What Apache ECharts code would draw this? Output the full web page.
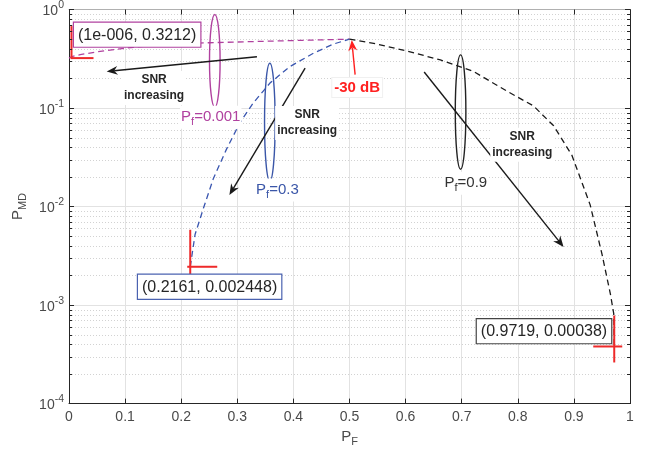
<!DOCTYPE html>
<html><head><meta charset="utf-8">
<script src="https://cdn.jsdelivr.net/npm/echarts@6/dist/echarts.min.js"></script>
<style>html,body{margin:0;padding:0;background:#fff}#c{width:655px;height:452px}</style>
</head><body><div id="c"></div>
<script>
// Pf = 0.001 (magenta)
const magentaX = [0.000001, 0.005, 0.02, 0.05, 0.1, 0.15, 0.2, 0.25, 0.3, 0.35, 0.4, 0.45, 0.5];
const magentaY = [0.3212, 0.333, 0.348, 0.372, 0.405, 0.432, 0.452, 0.46, 0.468, 0.476, 0.484, 0.492, 0.5];
// Pf = 0.3 (blue)
const blueX = [0.2161, 0.2247, 0.2396, 0.2574, 0.281, 0.305, 0.3287, 0.3585, 0.394, 0.4357, 0.4714, 0.5];
const blueY = [0.002448, 0.0052, 0.0096, 0.0193, 0.0385, 0.0714, 0.113, 0.18, 0.264, 0.36, 0.446, 0.5];
// Pf = 0.9 (black)
const blackX = [0.5, 0.543, 0.602, 0.662, 0.721, 0.781, 0.828, 0.864, 0.8966, 0.929, 0.95, 0.965, 0.971, 0.9719];
const blackY = [0.5, 0.453, 0.379, 0.308, 0.235, 0.148, 0.105, 0.066, 0.033, 0.0104, 0.0033, 0.0013, 0.00082, 0.00038];

const xTickLabels = ['0','0.1','0.2','0.3','0.4','0.5','0.6','0.7','0.8','0.9','1'];
const yTickExps = [-4, -3, -2, -1, 0];
const minorMults = [2,3,4,5,6,7,8,9];

// annotation anchors in data space
const datatips = [
  {text:'(1e-006, 0.3212)', at:[0.0089, 0.735], color:'#b0419f', pt:[0.000001, 0.3212]},
  {text:'(0.2161, 0.002448)', at:[0.123, 0.00203], color:'#4a62b0', pt:[0.2161, 0.002448]},
  {text:'(0.9719, 0.00038)', at:[0.727, 0.00072], color:'#444444', pt:[0.9719, 0.00038]}
];
const ellipses = [
  {x:0.2599, top:0.891, bottom:0.1016, color:'#b0419f'},
  {x:0.358, top:0.285, bottom:0.0181, color:'#3a56a8'},
  {x:0.698, top:0.346, bottom:0.0239, color:'#222222'}
];
const arrows = [
  {from:[0.335,0.332], to:[0.0672,0.235], color:'#1a1a1a'},
  {from:[0.4209,0.254], to:[0.2859,0.0131], color:'#1a1a1a'},
  {from:[0.6331,0.232], to:[0.8816,0.00389], color:'#1a1a1a'},
  {from:[0.510,0.218], to:[0.504,0.489], color:'#ff2020'}
];
const snrLabels = [[0.1516,0.1595],[0.4245,0.0703],[0.808,0.0423]];
const pfLabels = [
  {main:'P', sub:'f', rest:'=0.001', at:[0.198,0.0807], color:'#b0419f'},
  {main:'P', sub:'f', rest:'=0.3', at:[0.3317,0.0147], color:'#3a56a8'},
  {main:'P', sub:'f', rest:'=0.9', at:[0.6676,0.0172], color:'#333333'}
];
const dbLabel = {text:'-30 dB', at:[0.5137,0.162]};

const FONT = 'Liberation Sans, Arial, Helvetica, sans-serif';
const chart = echarts.init(document.getElementById('c'));
const dash = [6,4];
function pairs(xs, ys){ return xs.map((x,i)=>[x, ys[i]]); }

chart.setOption({
  animation:false,
  backgroundColor:'#fff',
  grid:{left:69, right:25, top:9, bottom:44, containLabel:false},
  xAxis:[{
    type:'value', min:0, max:1, interval:0.1, position:'bottom',
    axisLine:{show:true, onZero:false, lineStyle:{color:'#262626', width:1}},
    axisTick:{show:true, inside:true, length:5, lineStyle:{color:'#262626'}},
    axisLabel:{color:'#4a4a4a', fontSize:14, fontFamily:FONT, margin:7,
      formatter:v=>xTickLabels[Math.round(v*10)]},
    splitLine:{show:true, lineStyle:{color:'#e2e2e2', width:1}},
    name:'{p|P}{s|F}', nameLocation:'middle', nameGap:20,
    nameTextStyle:{rich:{p:{fontSize:15, color:'#4a4a4a', fontFamily:FONT},
      s:{fontSize:11, color:'#4a4a4a', fontFamily:FONT, verticalAlign:'top', padding:[9,0,0,0]}}}
  },{
    type:'value', min:0, max:1, interval:0.1, position:'top',
    axisLine:{show:true, onZero:false, lineStyle:{color:'#b0b0b0', width:1}},
    axisTick:{show:true, inside:true, length:5, lineStyle:{color:'#262626'}},
    axisLabel:{show:false}, splitLine:{show:false}
  }],
  yAxis:[{
    type:'log', logBase:10, min:1e-4, max:1, position:'left',
    axisLine:{show:true, onZero:false, lineStyle:{color:'#262626', width:1}},
    axisTick:{show:true, inside:true, length:5, lineStyle:{color:'#262626'}},
    axisLabel:{color:'#4a4a4a', fontFamily:FONT, margin:5,
      formatter:v=>'{b|10}{s|'+Math.round(Math.log10(v))+'}',
      rich:{b:{fontSize:14, color:'#4a4a4a', fontFamily:FONT, padding:[4,0,0,0]},
            s:{fontSize:10.5, color:'#4a4a4a', fontFamily:FONT, verticalAlign:'bottom', padding:[0,0,8,0]}}},
    splitLine:{show:true, lineStyle:{color:'#e2e2e2', width:1}},
    name:'{p|P}{s|MD}', nameLocation:'middle', nameGap:32, nameRotate:90,
    nameTextStyle:{rich:{p:{fontSize:15, color:'#4a4a4a', fontFamily:FONT},
      s:{fontSize:11, color:'#4a4a4a', fontFamily:FONT, verticalAlign:'top', padding:[9,0,0,0]}}}
  },{
    type:'log', logBase:10, min:1e-4, max:1, position:'right',
    axisLine:{show:true, onZero:false, lineStyle:{color:'#262626', width:1}},
    axisTick:{show:true, inside:true, length:5, lineStyle:{color:'#262626'}},
    axisLabel:{show:false}, splitLine:{show:false}
  }],
  series:[
    {type:'line', name:'Pf=0.001', data:pairs(magentaX, magentaY), showSymbol:false, z:3,
     lineStyle:{color:'#b0419f', width:1.3, type:dash}},
    {type:'line', name:'Pf=0.3', data:pairs(blueX, blueY), showSymbol:false, z:3,
     lineStyle:{color:'#3a56b0', width:1.3, type:dash}},
    {type:'line', name:'Pf=0.9', data:pairs(blackX, blackY), showSymbol:false, z:3,
     lineStyle:{color:'#1a1a1a', width:1.3, type:dash}}
  ]
});

function P(d){ return chart.convertToPixel({seriesIndex:0}, d); }
const els = [];
// minor grid + minor ticks
const gl = P([0,1])[0], gr = P([1,1])[0];
yTickExps.slice(0,-1).forEach(e=>{
  minorMults.forEach(m=>{
    const y = Math.round(P([0, m*Math.pow(10,e)])[1]) + 0.5;
    els.push({type:'line', z:1, silent:true, shape:{x1:gl, y1:y, x2:gr, y2:y},
      style:{stroke:'#d2d2d2', lineWidth:1, lineDash:[1,2]}});
    els.push({type:'line', z:20, silent:true, shape:{x1:gl, y1:y, x2:gl+3, y2:y}, style:{stroke:'#262626', lineWidth:1}});
    els.push({type:'line', z:20, silent:true, shape:{x1:gr-3, y1:y, x2:gr, y2:y}, style:{stroke:'#262626', lineWidth:1}});
  });
});
// ellipses
ellipses.forEach(e=>{
  const t = P([e.x, e.top]), b = P([e.x, e.bottom]);
  els.push({type:'ellipse', z:5, silent:true, shape:{cx:t[0], cy:(t[1]+b[1])/2, rx:5.3, ry:(b[1]-t[1])/2},
    style:{fill:null, stroke:e.color, lineWidth:1.4}});
});
// arrows
arrows.forEach(a=>{
  const t = P(a.from), h = P(a.to);
  const dx=h[0]-t[0], dy=h[1]-t[1], L=Math.hypot(dx,dy), ux=dx/L, uy=dy/L, nx=-uy, ny=ux;
  const hl=11, hw=4.5, notch=7.5;
  const bx=h[0]-ux*hl, by=h[1]-uy*hl;
  els.push({type:'line', z:6, silent:true, shape:{x1:t[0], y1:t[1], x2:h[0]-ux*notch, y2:h[1]-uy*notch},
    style:{stroke:a.color, lineWidth:1.4}});
  els.push({type:'polygon', z:6, silent:true, shape:{points:[[h[0],h[1]],[bx+nx*hw,by+ny*hw],[h[0]-ux*notch,h[1]-uy*notch],[bx-nx*hw,by-ny*hw]]},
    style:{fill:a.color}});
});
// SNR labels
snrLabels.forEach(s=>{
  const p = P(s);
  els.push({type:'text', z:8, silent:true, x:p[0], y:p[1],
    style:{text:'SNR\nincreasing', align:'center', verticalAlign:'middle', font:'bold 12px '+FONT,
      fill:'#262626', lineHeight:16, backgroundColor:'#fff', padding:[1,2]}});
});
// Pf labels
pfLabels.forEach(l=>{
  const p = P(l.at);
  els.push({type:'text', z:8, silent:true, x:p[0], y:p[1],
    style:{text:'{a|'+l.main+'}{b|'+l.sub+'}{a|'+l.rest+'}', align:'left', verticalAlign:'middle',
      rich:{a:{fontSize:15, fill:l.color, fontFamily:FONT},
            b:{fontSize:11, fill:l.color, fontFamily:FONT, verticalAlign:'top', padding:[10,0,0,0]}},
      backgroundColor:'#fff', padding:[1,1]}});
});
// -30 dB
(function(){
  const p = P(dbLabel.at);
  els.push({type:'text', z:8, silent:true, x:p[0], y:p[1],
    style:{text:dbLabel.text, align:'center', verticalAlign:'middle', font:'bold 15px '+FONT,
      fill:'#ff2020', backgroundColor:'#fff', borderColor:'#f0f0f0', borderWidth:1, padding:[2,2]}});
})();
// datatips + red crosses
const crossOff = [
  {v:[-32,1], h:[0,22]},
  {v:[-37,8], h:[-3,27]},
  {v:[-31,16], h:[-21,8]}
];
datatips.forEach((d,i)=>{
  const p = P(d.at);
  els.push({type:'text', z:12, silent:true, x:p[0], y:p[1],
    style:{text:d.text, align:'left', verticalAlign:'top', font:'16px '+FONT, fill:'#262626',
      backgroundColor:'#fff', borderColor:d.color, borderWidth:1.2, padding:[3,4,2,4], lineHeight:19}});
  const q = P(d.pt); const c = crossOff[i];
  const qx = Math.max(q[0], gl+2.5);
  els.push({type:'line', z:11, silent:true, shape:{x1:qx, y1:q[1]+c.v[0], x2:qx, y2:q[1]+c.v[1]}, style:{stroke:'#ee2a2a', lineWidth:2}});
  els.push({type:'line', z:11, silent:true, shape:{x1:qx+c.h[0], y1:q[1], x2:qx+c.h[1], y2:q[1]}, style:{stroke:'#ee2a2a', lineWidth:2}});
});
chart.setOption({graphic:{elements:els}});
</script>
</body></html>
